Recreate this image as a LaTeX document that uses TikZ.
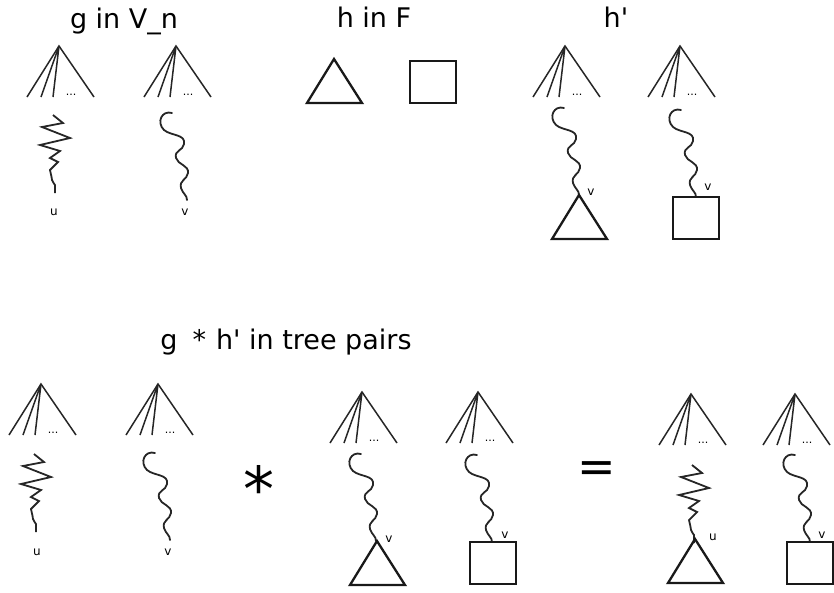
\documentclass[tikz,border=0pt]{standalone}
\usepackage{fontspec}
\setmainfont{DejaVu Sans}
\begin{document}
\begin{tikzpicture}[x=1pt,y=-1pt,
  treeline/.style={line width=1.5pt,black!85},
  wavy/.style={line width=1.8pt,black!85},
  shapeline/.style={line width=2.3pt,black!90,line join=miter},
  title/.style={font=\fontsize{27}{27}\selectfont,anchor=base,inner sep=0pt},
  lab/.style={font=\fontsize{12}{12}\selectfont,inner sep=0pt},
  dotsnode/.style={font=\fontsize{11}{11}\selectfont,inner sep=0pt,anchor=base},
  tree/.pic={
    \draw[treeline] (-32,51) -- (0,0) -- (35,51);
    \draw[treeline] (0,0) -- (-18,51) (0,0) -- (-6,51);
    \node[dotsnode] (-dots) at (12,49) {...};
  },
  wave/.pic={
    \draw[wavy,line cap=round] (-15,-87) .. controls (-25,-90) and (-31,-78) .. (-23,-70)
      .. controls (-16,-64) and (-1,-66) .. (-3,-56)
      .. controls (-4,-49) and (-13,-50) .. (-11,-42)
      .. controls (-9,-35) and (2,-35) .. (1,-27)
      .. controls (0,-20) and (-8,-20) .. (-6,-12)
      .. controls (-4,-6) and (0,-5) .. (0,0);
  },
  zig/.pic={
    \draw[wavy,line join=miter] (-2,-78) -- (8,-70) -- (-13,-66) -- (15,-55) -- (-15,-48)
      -- (5,-42) -- (-5,-35) -- (3,-31) -- (-5,-23)
      .. controls (-4,-18) and (-3,-15) .. (-3,-13)
      .. controls (-3,-10) and (0,-10) .. (0,-8) -- (0,0);
  },
  tri/.pic={
    \draw[shapeline] (0,0) -- (28,44) -- (-27,44) -- cycle;
  },
  sq/.pic={
    \draw[shapeline] (-23,0) rectangle (23,42);
  }
]
\useasboundingbox (0,0) rectangle (834,592);

% ---------- top row ----------
\node[title] (t1) at (124,28) {g in V\_n};
\node[title] (t2) at (374,27) {h in F};
\node[title] (t3) at (616,27) {h\textquotesingle};

% g in V_n
\pic at (59,46) {tree};
\pic at (176,46) {tree};
\pic at (55,193) {zig};
\pic at (187,200) {wave};
\node[lab] (u1) at (54,212) {u};
\node[lab] (v1) at (185,212) {v};

% h in F
\pic at (334,59) {tri};
\pic at (433,61) {sq};

% h'
\pic at (565,46) {tree};
\pic at (680,46) {tree};
\pic at (579,195) {wave};
\pic at (579,195) {tri};
\node[lab] (v2) at (591,192) {v};
\pic at (696,197) {wave};
\pic at (696,197) {sq};
\node[lab] (v3) at (708,187) {v};

% ---------- bottom row ----------
\node[title] (t4) at (286,349) {g\hspace{15pt}*\hspace{10pt}h\textquotesingle{} in tree pairs};

\pic at (41,384) {tree};
\pic at (158,384) {tree};
\pic at (36,532) {zig};
\pic at (170,540) {wave};
\node[lab] (u4) at (37,552) {u};
\node[lab] (v4) at (168,552) {v};

\node[font=\fontsize{62}{62}\selectfont,inner sep=0pt] (star) at (259,488) {*};

\pic at (362,392) {tree};
\pic at (478,392) {tree};
\pic at (376,541) {wave};
\pic at (377,541) {tri};
\node[lab] (v5) at (389,539) {v};
\pic at (492,542) {wave};
\pic at (493,542) {sq};
\node[lab] (v6) at (505,535) {v};

\node[font=\fontsize{46}{46}\selectfont,inner sep=0pt] (eq) at (597,472) {=};

\pic at (691,394) {tree};
\pic at (795,394) {tree};
\pic at (694,543) {zig};
\pic at (695,539) {tri};
\node[lab] (u7) at (713,537) {u};
\pic at (810,542) {wave};
\pic at (810,542) {sq};
\node[lab] (v7) at (822,535) {v};
\end{tikzpicture}
\end{document}
